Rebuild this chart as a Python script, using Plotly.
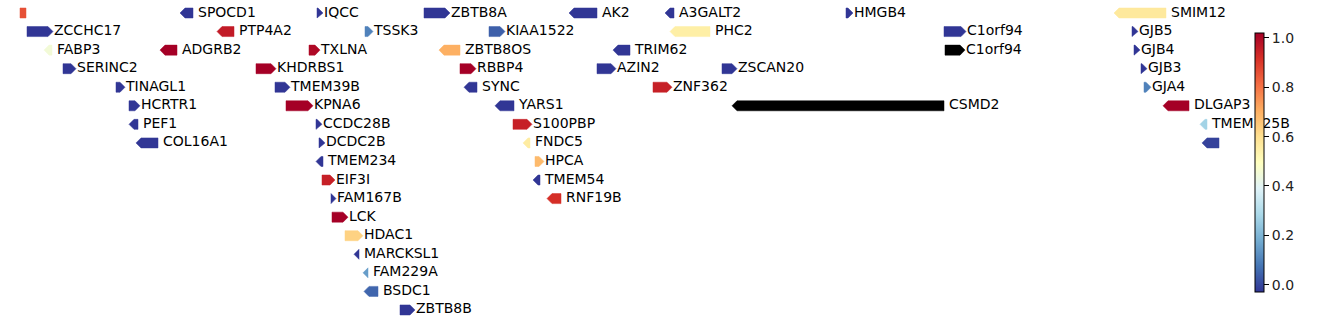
import plotly.graph_objects as go
from plotly.colors import sample_colorscale
import math

# ---- data ----
genes = ["", "SPOCD1", "IQCC", "ZBTB8A", "AK2", "A3GALT2", "HMGB4", "SMIM12",
         "ZCCHC17", "PTP4A2", "TSSK3", "KIAA1522", "PHC2", "C1orf94", "GJB5",
         "FABP3", "ADGRB2", "TXLNA", "ZBTB8OS", "TRIM62", "C1orf94", "GJB4",
         "SERINC2", "KHDRBS1", "RBBP4", "AZIN2", "ZSCAN20", "GJB3",
         "TINAGL1", "TMEM39B", "SYNC", "ZNF362", "GJA4",
         "HCRTR1", "KPNA6", "YARS1", "CSMD2", "DLGAP3",
         "PEF1", "CCDC28B", "S100PBP", "TMEM125B",
         "COL16A1", "DCDC2B", "FNDC5", "",
         "TMEM234", "HPCA",
         "EIF3I", "TMEM54",
         "FAM167B", "RNF19B",
         "LCK", "HDAC1", "MARCKSL1", "FAM229A", "BSDC1", "ZBTB8B"]
starts = [20, 180, 317, 424, 569, 665, 846, 1114,
          27, 217, 365, 489, 670, 944, 1132,
          44, 160, 309, 439, 613, 945, 1134,
          63, 256, 460, 597, 722, 1141,
          116, 275, 464, 653, 1144,
          129, 286, 495, 732, 1163,
          129, 316, 513, 1200,
          136, 319, 523, 1202,
          316, 535,
          322, 533,
          331, 547,
          332, 345, 354, 363, 364, 400]
ends = [26, 193, 323, 450, 597, 674, 853, 1166,
        53, 234, 373, 505, 710, 966, 1138,
        52, 177, 320, 460, 630, 965, 1140,
        76, 276, 476, 616, 737, 1147,
        125, 290, 477, 672, 1151,
        140, 313, 514, 944, 1189,
        138, 322, 532, 1207,
        158, 325, 530, 1219,
        323, 544,
        335, 540,
        336, 561,
        348, 363, 359, 368, 378, 415]
strands = [0, -1, 1, 1, -1, -1, 1, -1,
           1, -1, 1, 1, -1, 1, 1,
           -1, -1, 1, -1, -1, 1, 1,
           1, 1, 1, 1, 1, 1,
           1, 1, -1, 1, 1,
           1, 1, -1, -1, -1,
           -1, 1, 1, -1,
           -1, 1, -1, -1,
           -1, 1,
           1, -1,
           1, -1,
           1, 1, -1, -1, -1, 1]
rows = [0, 0, 0, 0, 0, 0, 0, 0,
        1, 1, 1, 1, 1, 1, 1,
        2, 2, 2, 2, 2, 2, 2,
        3, 3, 3, 3, 3, 3,
        4, 4, 4, 4, 4,
        5, 5, 5, 5, 5,
        6, 6, 6, 6,
        7, 7, 7, 7,
        8, 8,
        9, 9,
        10, 10,
        11, 12, 13, 14, 15, 16]
nan = float("nan")
values = [0.86, -0.03, -0.03, -0.03, -0.03, -0.03, -0.03, 0.57,
          -0.03, 0.96, 0.10, 0.04, 0.55, -0.03, -0.03,
          0.45, 1.02, 1.0, 0.70, -0.03, nan, -0.03,
          -0.03, 1.02, 1.02, -0.03, -0.03, -0.03,
          -0.03, -0.03, -0.03, 0.95, 0.10,
          -0.03, 1.02, -0.03, nan, 1.02,
          -0.03, -0.03, 0.95, 0.27,
          -0.03, -0.03, 0.56, -0.01,
          -0.03, 0.68,
          0.95, -0.03,
          -0.03, 0.92,
          1.02, 0.63, -0.03, 0.15, 0.05, -0.03]
cbar_ticks = [0.0, 0.2, 0.4, 0.6, 0.8, 1.0]
cbar_ticktext = ["0.0", "0.2", "0.4", "0.6", "0.8", "1.0"]

# ---- style ----
CMIN, CMAX = -0.03, 1.02
CSCALE = "RdYlBu_r"
HEAD = 5.0
HALF_H = 0.27
FONT = "DejaVu Sans"

def color_of(v):
    if v is None or (isinstance(v, float) and math.isnan(v)):
        return "black"
    t = (v - CMIN) / (CMAX - CMIN)
    t = min(max(t, 0.0), 1.0)
    return sample_colorscale(CSCALE, [t])[0]

fig = go.Figure()
lab_x, lab_y, lab_t = [], [], []
for g, s, e, st, r, v in zip(genes, starts, ends, strands, rows, values):
    L = e - s
    hl = min(HEAD, L)
    y0, y1 = r - HALF_H, r + HALF_H
    if st == 1:
        xs = [s, e - hl, e, e - hl, s, s]
        ys = [y0, y0, r, y1, y1, y0]
    elif st == -1:
        xs = [e, s + hl, s, s + hl, e, e]
        ys = [y0, y0, r, y1, y1, y0]
    else:
        xs = [s, e, e, s, s]
        ys = [y0, y0, y1, y1, y0]
    c = color_of(v)
    fig.add_trace(go.Scatter(x=xs, y=ys, mode="lines", fill="toself",
                             fillcolor=c, line=dict(color=c, width=0.5),
                             hoverinfo="skip", showlegend=False))
    if g:
        lab_x.append(e + (1 if st == 1 else 5))
        lab_y.append(r)
        lab_t.append(g)

fig.add_trace(go.Scatter(x=lab_x, y=lab_y, text=lab_t, mode="text",
                         textposition="middle right", cliponaxis=False,
                         textfont=dict(family=FONT, size=14, color="black"),
                         hoverinfo="skip", showlegend=False))

# colorbar carrier
fig.add_trace(go.Scatter(x=[0], y=[0], mode="markers",
                         marker=dict(color=[0.5], cmin=CMIN, cmax=CMAX,
                                     colorscale=CSCALE, opacity=0, size=1,
                                     showscale=True,
                                     colorbar=dict(x=1255 / 1240, xanchor="left", xpad=0,
                                                   y=1 - 162.5 / 324, yanchor="middle", ypad=0,
                                                   lenmode="pixels", len=259,
                                                   thickness=9, outlinewidth=1,
                                                   outlinecolor="black",
                                                   ticks="outside", ticklen=5,
                                                   tickwidth=1, tickcolor="black",
                                                   tickvals=cbar_ticks,
                                                   ticktext=cbar_ticktext,
                                                   tickfont=dict(family=FONT, size=14,
                                                                 color="#222"))),
                         hoverinfo="skip", showlegend=False))

fig.update_layout(
    width=1338, height=324,
    margin=dict(l=0, r=98, t=0, b=0, autoexpand=False),
    paper_bgcolor="white", plot_bgcolor="white",
    xaxis=dict(range=[0, 1240], visible=False, fixedrange=True),
    yaxis=dict(range=[311 / 18.56, -13 / 18.56], visible=False, fixedrange=True),
    showlegend=False,
)

fig.write_html("out.html")
